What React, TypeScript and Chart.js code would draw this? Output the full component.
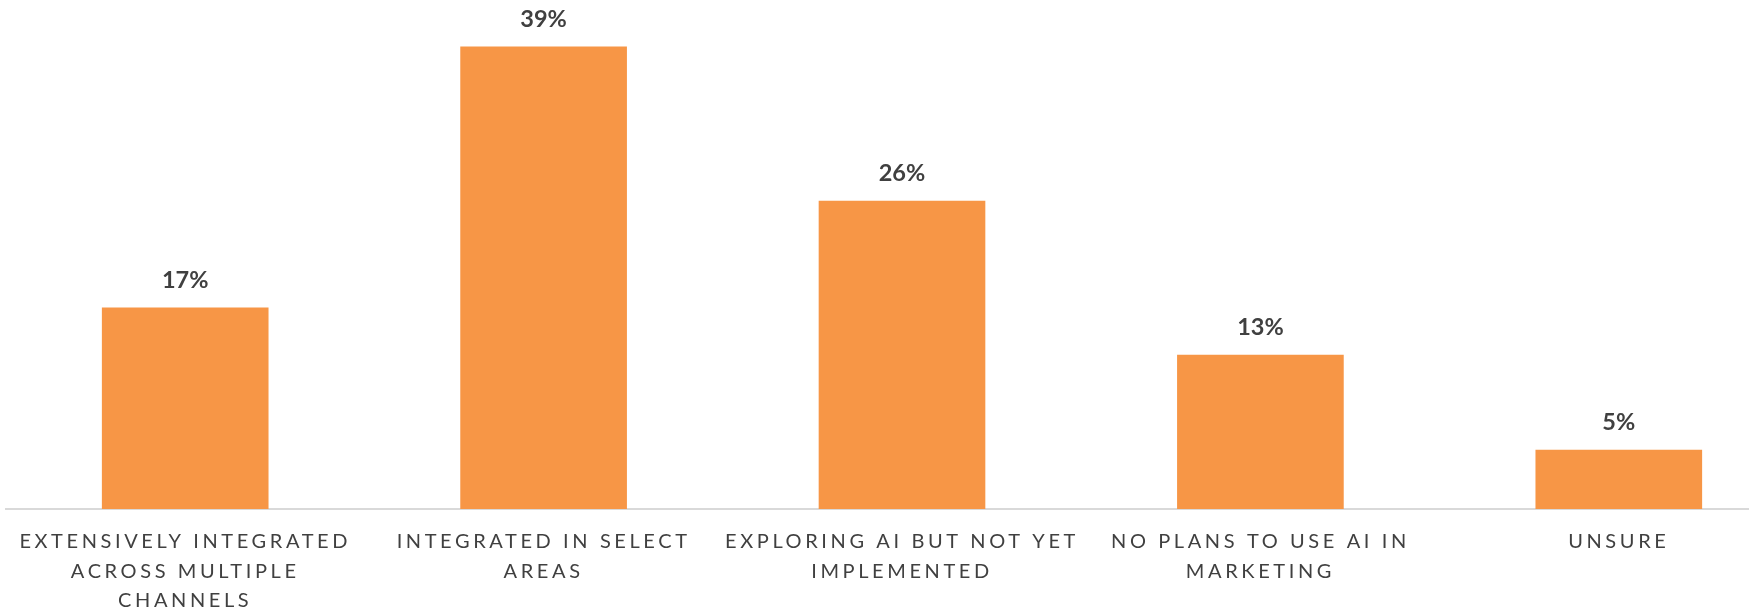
import React, { useEffect, useRef } from "react";
import { Chart, registerables } from "chart.js";

Chart.register(...registerables);

const categories: string[][] = [
  ["EXTENSIVELY INTEGRATED", "ACROSS MULTIPLE", "CHANNELS"],
  ["INTEGRATED IN SELECT", "AREAS"],
  ["EXPLORING AI BUT NOT YET", "IMPLEMENTED"],
  ["NO PLANS TO USE AI IN", "MARKETING"],
  ["UNSURE"],
];
const values: number[] = [17, 39, 26, 13, 5];

const FONT = "Lato, 'Open Sans', sans-serif";
const SPACING = "3.6px";

const spacingPlugin = {
  id: "letterSpacing",
  beforeLayout(chart: any) {
    chart.ctx.letterSpacing = SPACING;
  },
  beforeDraw(chart: any) {
    chart.ctx.letterSpacing = SPACING;
  },
};

const valueLabelPlugin = {
  id: "valueLabels",
  afterDatasetsDraw(chart: any) {
    const ctx = chart.ctx;
    const meta = chart.getDatasetMeta(0);
    ctx.save();
    ctx.letterSpacing = "0px";
    ctx.font = `bold 23.5px ${FONT}`;
    ctx.fillStyle = "#404040";
    ctx.textAlign = "center";
    ctx.textBaseline = "middle";
    meta.data.forEach((bar: any, i: number) => {
      ctx.fillText(`${values[i]}%`, bar.x, bar.y - 27);
    });
    ctx.restore();
  },
};

export default function App() {
  const ref = useRef<HTMLCanvasElement | null>(null);
  useEffect(() => {
    if (!ref.current) return;
    const chart = new Chart(ref.current, {
      type: "bar",
      data: {
        labels: categories as any,
        datasets: [
          {
            data: values,
            backgroundColor: "#F79646",
            borderWidth: 0,
            barPercentage: 0.465,
            categoryPercentage: 1,
          },
        ],
      },
      options: {
        animation: false,
        responsive: false,
        layout: { padding: { top: 11, left: 6, right: 0, bottom: 0 } },
        plugins: { legend: { display: false }, tooltip: { enabled: false } },
        scales: {
          x: {
            grid: { display: false, drawTicks: false },
            border: { display: true, color: "#D9D9D9", width: 2 },
            ticks: {
              color: "#404040",
              font: { family: FONT, size: 20, lineHeight: 1.475 },
              padding: 18,
              maxRotation: 0,
              minRotation: 0,
              autoSkip: false,
            },
            afterFit: (scale: any) => {
              scale.height = 101;
            },
          },
          y: {
            display: false,
            min: 0,
            max: 42,
          },
        },
      },
      plugins: [spacingPlugin, valueLabelPlugin],
    });
    return () => chart.destroy();
  }, []);
  return (
    <div
      style={{
        position: "fixed",
        left: 0,
        top: 0,
        width: 1749,
        height: 610,
        overflow: "hidden",
        background: "#fff",
      }}
    >
      <canvas
        ref={ref}
        width={1798}
        height={610}
        style={{ width: 1798, height: 610, display: "block" }}
      />
    </div>
  );
}
